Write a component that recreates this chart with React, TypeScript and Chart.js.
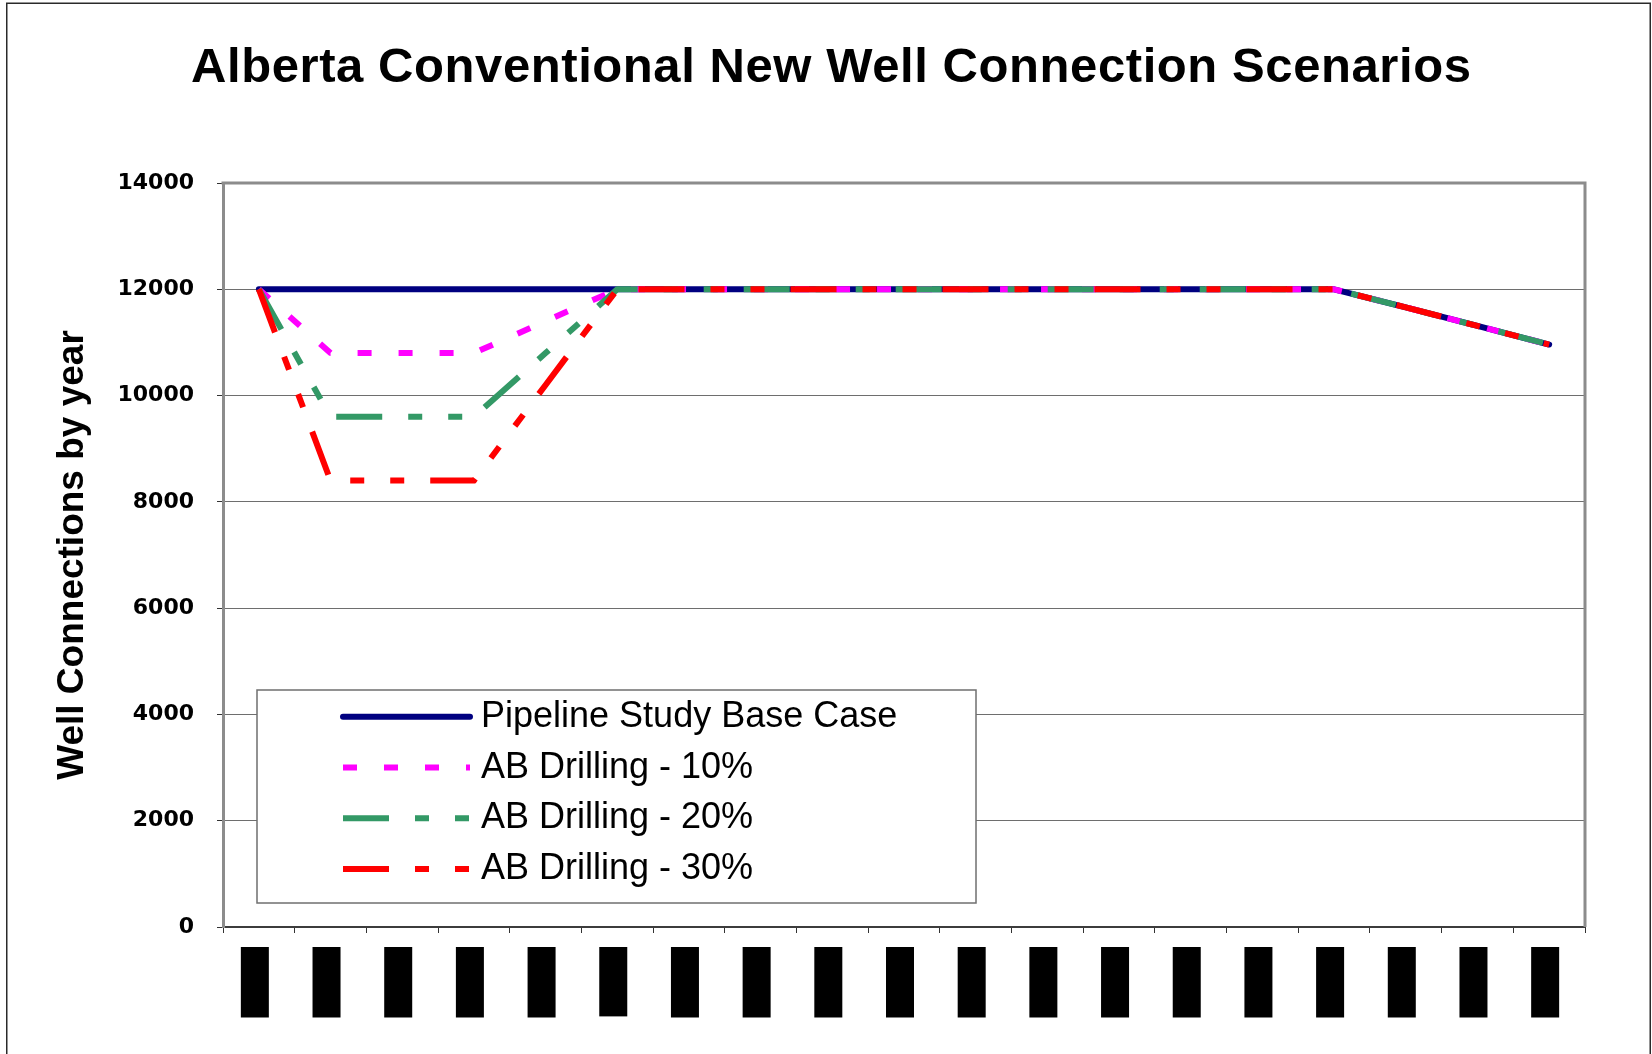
import React, { useEffect, useRef } from 'react';
import { Chart, registerables } from 'chart.js';

Chart.register(...registerables);

const chartTitle = 'Alberta Conventional New Well Connection Scenarios';
const yAxisTitle = 'Well Connections by year';
const years = ['2006', '2007', '2008', '2009', '2010', '2011', '2012', '2013', '2014', '2015', '2016', '2017', '2018', '2019', '2020', '2021', '2022', '2023', '2024'];
const seriesLabels = ['Pipeline Study Base Case', 'AB Drilling - 10%', 'AB Drilling - 20%', 'AB Drilling - 30%'];
const baseCase = [12000, 12000, 12000, 12000, 12000, 12000, 12000, 12000, 12000, 12000, 12000, 12000, 12000, 12000, 12000, 12000, 11660, 11310, 10960];
const drilling10 = [12000, 10800, 10800, 10800, 11400, 12000, 12000, 12000, 12000, 12000, 12000, 12000, 12000, 12000, 12000, 12000, 11660, 11310, 10960];
const drilling20 = [12000, 9600, 9600, 9600, 10800, 12000, 12000, 12000, 12000, 12000, 12000, 12000, 12000, 12000, 12000, 12000, 11660, 11310, 10960];
const drilling30 = [12000, 8400, 8400, 8400, 10200, 12000, 12000, 12000, 12000, 12000, 12000, 12000, 12000, 12000, 12000, 12000, 11660, 11310, 10960];
const yMin = 0;
const yMax = 14000;
const yStep = 2000;

const seriesColors = ['#000080', '#FF00FF', '#339966', '#FF0000'];
const seriesDashes = [[], [14, 27], [46, 26, 14, 26, 14, 26], [46, 26, 14, 26, 14, 26]];

const W = 1652;
const H = 1054;

const decorPlugin = {
  id: 'decor',
  beforeDraw(chart: any) {
    const ctx = chart.ctx;
    ctx.save();
    ctx.fillStyle = '#ffffff';
    ctx.fillRect(0, 0, W, H);
    ctx.strokeStyle = '#2a2a2a';
    ctx.lineWidth = 1.5;
    ctx.beginPath();
    ctx.moveTo(6.75, H + 2);
    ctx.lineTo(6.75, 3.25);
    ctx.lineTo(1650.25, 3.25);
    ctx.lineTo(1650.25, H + 2);
    ctx.stroke();
    ctx.restore();
  },
  beforeDatasetsDraw(chart: any) {
    const { ctx, chartArea } = chart;
    ctx.save();
    ctx.strokeStyle = '#8c8c8c';
    ctx.lineWidth = 3;
    ctx.beginPath();
    ctx.moveTo(chartArea.left - 1.5, chartArea.top);
    ctx.lineTo(chartArea.right, chartArea.top);
    ctx.lineTo(chartArea.right, chartArea.bottom);
    ctx.stroke();
    ctx.restore();
  },
  afterDraw(chart: any) {
    const ctx = chart.ctx;
    // title
    ctx.save();
    ctx.font = 'bold 49px "Liberation Sans", Arial, sans-serif';
    ctx.letterSpacing = '0px';
    const w = ctx.measureText(chartTitle).width;
    const sp = Math.max(0, (1280 - w) / (chartTitle.length - 1));
    ctx.letterSpacing = sp.toFixed(2) + 'px';
    ctx.fillStyle = '#000';
    ctx.textAlign = 'left';
    ctx.textBaseline = 'alphabetic';
    ctx.fillText(chartTitle, 191, 82);
    ctx.restore();

    // legend
    const bx = 257, by = 690, bw = 719, bh = 213;
    ctx.save();
    ctx.fillStyle = '#ffffff';
    ctx.fillRect(bx, by, bw, bh);
    ctx.strokeStyle = '#6f6f6f';
    ctx.lineWidth = 1.5;
    ctx.strokeRect(bx, by, bw, bh);
    chart.data.datasets.forEach((ds: any, i: number) => {
      const ry = 716.7 + i * 50.8;
      ctx.save();
      ctx.strokeStyle = ds.borderColor;
      ctx.lineWidth = ds.borderWidth;
      ctx.setLineDash(ds.borderDash || []);
      ctx.lineCap = ds.borderCapStyle || 'butt';
      ctx.beginPath();
      ctx.moveTo(343, ry);
      ctx.lineTo(470, ry);
      ctx.stroke();
      ctx.restore();
      ctx.font = '36px "Liberation Sans", Arial, sans-serif';
      ctx.fillStyle = '#000';
      ctx.textAlign = 'left';
      ctx.textBaseline = 'alphabetic';
      ctx.fillText(ds.label, 481, ry + 10);
    });
    ctx.restore();
  },
};

export default function App() {
  const ref = useRef<HTMLCanvasElement>(null);

  useEffect(() => {
    const canvas = ref.current;
    if (!canvas) return;
    const seriesData = [baseCase, drilling10, drilling20, drilling30];
    const chart = new Chart(canvas, {
      type: 'line',
      data: {
        labels: years,
        datasets: seriesData.map((d, i) => ({
          label: seriesLabels[i],
          data: d,
          borderColor: seriesColors[i],
          backgroundColor: seriesColors[i],
          borderWidth: 6,
          borderDash: seriesDashes[i],
          borderCapStyle: i === 0 ? 'round' : 'butt',
          borderJoinStyle: 'round',
          pointRadius: 0,
          pointHoverRadius: 0,
          tension: 0,
          fill: false,
          order: 4 - i,
        })),
      },
      options: {
        responsive: false,
        animation: false,
        devicePixelRatio: 1,
        layout: { padding: { top: 183, left: 10, right: 67, bottom: 0 } },
        plugins: {
          legend: { display: false },
          title: { display: false },
          tooltip: { enabled: false },
        },
        scales: {
          x: {
            type: 'category',
            offset: true,
            grid: { offset: true, drawOnChartArea: false, tickLength: 6, color: '#333333', lineWidth: 1 },
            border: { color: '#3c3c3c', width: 2 },
            ticks: {
              autoSkip: false,
              minRotation: 90,
              maxRotation: 90,
              color: '#000',
              padding: 18,
              labelOffset: -16,
              font: { family: '"Liberation Sans", Arial, sans-serif', weight: 'bold', size: 20, lineHeight: 1.2 },
              showLabelBackdrop: true,
              backdropColor: '#000',
              backdropPadding: { top: 2, bottom: 2, left: 22, right: 4 },
            },
            afterFit: (s: any) => { s.height = 127; },
          },
          y: {
            min: yMin,
            max: yMax,
            ticks: {
              stepSize: yStep,
              color: '#000',
              padding: 23,
              font: { family: '"DejaVu Sans", sans-serif', weight: 'bold', size: 22 },
              callback: (v: any) => String(v),
            },
            grid: { color: '#6e6e6e', lineWidth: 1, tickLength: 6, tickColor: '#333333' },
            border: { color: '#8c8c8c', width: 3 },
            title: {
              display: true,
              text: yAxisTitle,
              color: '#000',
              font: { family: '"Liberation Sans", Arial, sans-serif', weight: 'bold', size: 37 },
              padding: { top: 41, bottom: 0 },
            },
            afterFit: (s: any) => { s.width = 213; },
          },
        },
      },
      plugins: [decorPlugin],
    } as any);
    return () => chart.destroy();
  }, []);

  return (
    <div style={{ position: 'absolute', left: 0, top: 0, width: W, height: H, overflow: 'hidden', background: '#fff' }}>
      <canvas ref={ref} width={W} height={H} style={{ display: 'block', width: W, height: H }} />
    </div>
  );
}
